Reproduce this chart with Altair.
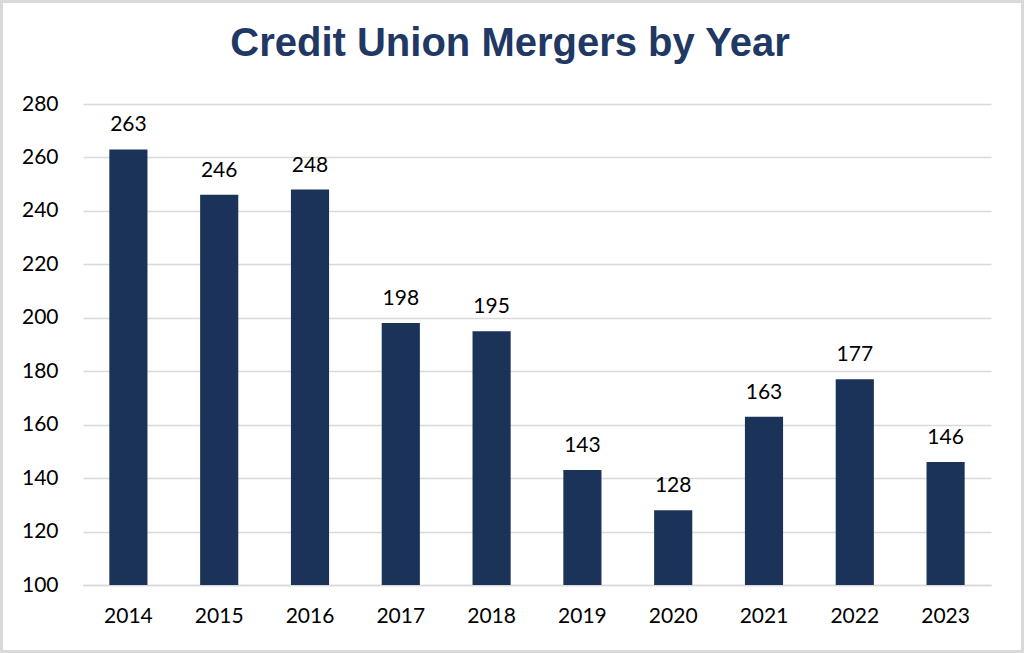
import altair as alt
import pandas as pd

years = ["2014", "2015", "2016", "2017", "2018", "2019", "2020", "2021", "2022", "2023"]
mergers = [263, 246, 248, 198, 195, 143, 128, 163, 177, 146]

df = pd.DataFrame({"year": years, "mergers": mergers})

W, H = 908, 481
PL, PT, PR, PB = 83, 104, 33, 68
NAVY = "#1B3358"

base = alt.Chart(df)

border = alt.Chart(pd.DataFrame({"a": [0]})).mark_rect(
    fill=None, stroke="#D9D9D9", strokeWidth=3
).encode(
    x=alt.value(-PL + 1.5), x2=alt.value(W + PR - 1.5),
    y=alt.value(-PT + 1.5), y2=alt.value(H + PB - 1.5),
)

bars = base.mark_bar(color=NAVY, clip=True).encode(
    x=alt.X("year:N", sort=years,
            scale=alt.Scale(paddingInner=0.58, paddingOuter=0.29),
            axis=alt.Axis(title=None, labelAngle=0, labelFont="Lato", labelFontSize=21,
                          labelColor="#000000", labelPadding=20, ticks=False,
                          domainColor="#D9D9D9", domainWidth=1.5, grid=False)),
    y=alt.Y("mergers:Q",
            scale=alt.Scale(domain=[100, 280], nice=False, zero=False),
            axis=alt.Axis(title=None, values=list(range(100, 281, 20)),
                          labelFont="Lato", labelFontSize=21, labelColor="#000000",
                          labelPadding=25, ticks=False, domain=False,
                          gridColor="#D9D9D9", gridWidth=1.5)),
)

labels = base.mark_text(font="Lato", fontSize=21, color="#000000",
                        baseline="bottom", dy=-14).encode(
    x=alt.X("year:N", sort=years),
    y=alt.Y("mergers:Q"),
    text=alt.Text("mergers:Q"),
)

chart = alt.layer(border, bars, labels).properties(
    width=W, height=H,
    padding={"left": PL, "top": PT, "right": PR, "bottom": PB},
    autosize=alt.AutoSizeParams(type="none"),
    background="#FFFFFF",
    title=alt.TitleParams("Credit Union Mergers by Year", font="Liberation Sans",
                          fontSize=40, fontWeight="bold", color="#1F3864",
                          anchor="middle", dx=-27, offset=-64),
).configure_view(stroke=None)

chart.save("out.html", embed_options={"renderer": "svg", "actions": False})
